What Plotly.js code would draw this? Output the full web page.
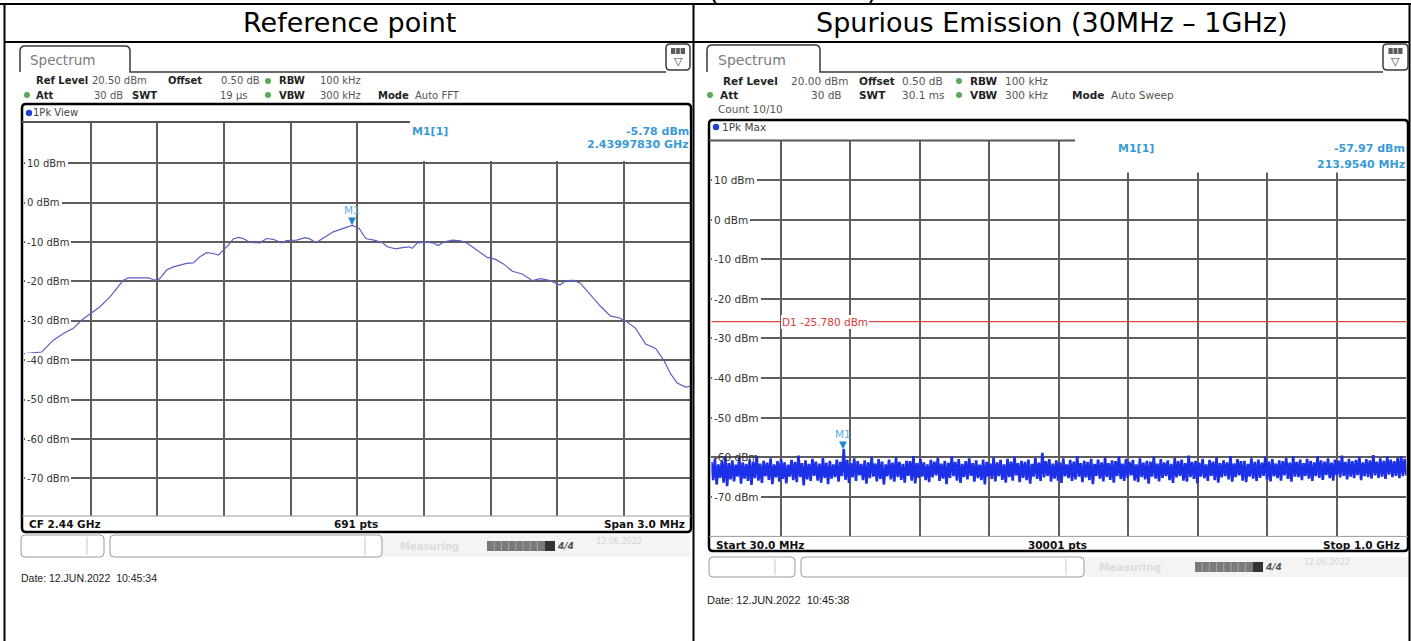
<!DOCTYPE html>
<html><head><meta charset="utf-8">
<script src="https://cdn.plot.ly/plotly-3.0.1.min.js"></script>
<style>html,body{margin:0;padding:0;background:#fff;}#chart{width:1411px;height:641px;}</style>
</head><body><div id="chart"></div>
<script>
// ================= DATA =================
// Reference point trace (CF 2.44 GHz, span 3 MHz) : frequency in MHz, level in dBm
const refFreqMHz = [2438.500,2438.580,2438.602,2438.632,2438.677,2438.722,2438.760,2438.800,2438.842,2438.887,
 2438.917,2438.947,2438.970,2439.022,2439.060,2439.082,2439.100,2439.112,2439.142,2439.172,
 2439.202,2439.232,2439.262,2439.292,2439.322,2439.352,2439.375,2439.400,2439.420,2439.442,
 2439.465,2439.487,2439.517,2439.562,2439.592,2439.622,2439.660,2439.682,2439.727,2439.765,
 2439.787,2439.814,2439.847,2439.892,2439.934,2439.978,2440.008,2440.038,2440.075,2440.113,
 2440.135,2440.173,2440.203,2440.233,2440.248,2440.270,2440.315,2440.345,2440.363,2440.390,
 2440.428,2440.465,2440.495,2440.540,2440.585,2440.623,2440.660,2440.698,2440.743,2440.788,
 2440.825,2440.863,2440.912,2440.938,2440.975,2441.005,2441.050,2441.095,2441.140,2441.178,
 2441.215,2441.253,2441.298,2441.343,2441.380,2441.410,2441.440,2441.478,2441.500];
const refLevel = [-38.3,-37.9,-36.6,-34.9,-33.2,-31.9,-29.8,-28.1,-26.4,-23.9,
 -21.8,-19.7,-19.1,-19.0,-19.1,-19.5,-19.7,-19.2,-17.1,-16.3,
 -15.8,-15.4,-15.3,-13.7,-12.7,-12.9,-13.3,-12.0,-10.8,-9.2,
 -8.8,-9.1,-10.1,-10.2,-9.1,-9.3,-10.2,-9.6,-9.5,-8.9,
 -9.2,-10.2,-9.1,-7.4,-6.6,-5.78,-6.5,-9.1,-9.5,-10.1,
 -11.2,-11.7,-11.4,-11.2,-11.6,-10.2,-10.0,-10.3,-10.9,-10.0,
 -9.5,-9.7,-10.3,-12.0,-13.9,-14.4,-15.6,-17.4,-18.1,-19.8,
 -19.3,-19.7,-20.9,-19.8,-19.7,-20.5,-23.5,-26.3,-28.8,-29.2,
 -30.3,-31.9,-35.9,-37.0,-40.0,-43.4,-45.8,-46.8,-46.6];
const refRange = [2438.5, 2441.5];
const refLevelRange = [-79.5, 20.5];
const refMarkerFreq = 2439.9783;
const refMarkerLevel = -5.78;

// Spurious emission sweep 30 MHz - 1 GHz: upper / lower envelope of the noise band (dBm)
const spurStartMHz = 30, spurStopMHz = 1000;
const spurHi = [
 -61.2,-60.4,-61.8,-61.0,-59.9,-61.5,-60.8,-61.9,-60.2,-61.3,-61.7,-60.6,-61.1,-59.8,-61.6,-60.9,-61.4,-60.3,-61.8,-61.0,
 -60.5,-61.3,-61.9,-60.7,-61.2,-59.6,-61.5,-60.8,-61.7,-60.4,-61.1,-61.6,-60.2,-61.4,-60.9,-61.8,-60.6,-61.2,-57.97,-60.7,
 -61.5,-60.3,-61.0,-61.7,-60.8,-61.3,-59.9,-61.6,-60.5,-61.1,-61.8,-60.6,-61.4,-60.1,-61.2,-61.7,-60.9,-61.0,-59.7,-61.5,
 -60.4,-61.3,-61.8,-60.7,-61.1,-60.2,-61.6,-60.9,-61.4,-59.8,-61.2,-60.5,-61.7,-61.0,-60.3,-61.5,-60.8,-61.9,-60.6,-61.2,
 -61.6,-60.1,-61.3,-60.7,-61.8,-60.4,-61.1,-59.9,-61.5,-60.9,-61.2,-60.6,-61.7,-60.2,-61.4,-58.9,-61.0,-60.5,-61.6,-60.8,
 -61.3,-60.3,-61.8,-60.7,-61.1,-59.7,-61.5,-60.9,-61.2,-60.4,-61.7,-60.6,-61.3,-60.1,-61.5,-60.8,-61.0,-59.8,-61.6,-60.5,
 -61.2,-60.7,-61.8,-60.3,-61.4,-60.9,-61.1,-59.9,-61.6,-60.5,-61.3,-60.8,-61.7,-60.2,-61.0,-60.6,-61.5,-59.6,-61.2,-60.9,
 -61.4,-60.4,-61.8,-60.7,-61.1,-60.1,-61.5,-60.8,-61.3,-59.7,-61.6,-60.5,-61.0,-60.9,-61.7,-60.3,-61.2,-60.6,-61.4,-59.9,
 -61.1,-60.5,-61.6,-60.8,-61.0,-60.2,-61.4,-59.8,-61.2,-60.6,-61.5,-60.4,-60.9,-61.3,-59.7,-60.8,-61.1,-60.3,-61.4,-60.6,
 -60.9,-59.6,-61.2,-60.4,-61.0,-60.7,-59.9,-61.3,-60.5,-60.8,-59.5,-61.1,-60.3,-60.9,-59.8,-60.6,-61.0,-60.2,-59.7,-60.4];
const spurLo = [
 -65.8,-66.9,-65.2,-66.4,-67.3,-65.6,-66.1,-64.9,-66.7,-65.4,-66.0,-67.0,-65.3,-65.9,-66.5,-64.8,-65.7,-66.8,-65.1,-66.2,
 -65.5,-66.6,-64.9,-65.8,-66.3,-65.0,-67.1,-65.6,-66.0,-64.7,-65.9,-66.4,-65.2,-66.8,-65.4,-65.0,-66.2,-64.8,-65.7,-66.5,
 -65.1,-66.0,-64.6,-65.8,-66.7,-65.3,-64.9,-66.1,-65.5,-66.9,-64.8,-65.6,-66.2,-65.0,-65.7,-66.4,-64.7,-65.9,-66.6,-65.2,
 -64.9,-65.8,-66.3,-65.1,-64.6,-66.0,-65.4,-66.8,-65.2,-64.8,-65.9,-66.5,-65.0,-65.6,-64.7,-66.2,-65.3,-65.8,-66.9,-64.9,
 -65.5,-66.1,-64.8,-65.7,-66.4,-65.0,-65.9,-64.6,-66.3,-65.2,-65.8,-66.7,-64.9,-65.5,-66.0,-65.1,-64.7,-66.2,-65.4,-65.9,
 -66.5,-64.8,-65.3,-66.0,-65.6,-64.9,-66.3,-65.1,-65.8,-66.8,-64.7,-65.4,-66.1,-65.0,-65.7,-66.4,-64.8,-65.5,-66.0,-65.2,
 -64.6,-65.9,-66.3,-65.0,-65.6,-66.7,-64.9,-65.4,-66.1,-65.2,-64.8,-65.8,-66.5,-65.1,-64.7,-65.9,-66.2,-65.0,-65.5,-66.6,
 -64.9,-65.3,-66.0,-64.7,-65.8,-66.4,-65.1,-64.8,-65.6,-66.2,-65.0,-64.6,-65.9,-66.3,-64.9,-65.4,-66.0,-65.2,-64.7,-65.7,
 -66.1,-64.8,-65.3,-65.9,-64.6,-65.5,-66.2,-64.9,-65.0,-65.8,-64.7,-65.4,-66.0,-64.8,-65.2,-65.7,-64.5,-65.3,-65.9,-64.6,
 -65.1,-64.7,-65.6,-64.9,-65.3,-64.5,-65.8,-64.8,-65.0,-65.4,-64.6,-65.2,-64.9,-65.5,-64.4,-65.0,-64.7,-65.3,-64.8,-64.6];
const spurLevelRange = [-80, 20];
const spurMarkerFreq = 213.954;
const spurMarkerLevel = -57.97;
const limitLevel = -25.78;

const levelTicks = [10,0,-10,-20,-30,-40,-50,-60,-70];
const levelTickLabels = ['10 dBm','0 dBm','-10 dBm','-20 dBm','-30 dBm','-40 dBm','-50 dBm','-60 dBm','-70 dBm'];
const titles = ['Reference point', 'Spurious Emission (30MHz \u2013 1GHz)'];

// ================= BUILD =================
const W = 1411, H = 641;
const X = p => p / W, Y = p => 1 - p / H;
const LP = {x0: 24, x1: 690.5, y0: 121.9, y1: 515.9};
const RP = {x0: 711.4, x1: 1406.4, y0: 140.4, y1: 536.4};
const INST = 'DejaVu Sans';
const MK = '#3a9ad6';

// spur sweep points: interleave upper / lower envelope along an evenly spaced sweep
const spurN = spurHi.length * 2;
const spurX = [], spurY = [];
for (let j = 0; j < spurN; j++) {
  spurX.push(spurStartMHz + j * (spurStopMHz - spurStartMHz) / (spurN - 1));
  spurY.push(j % 2 === 0 ? spurHi[j / 2] : spurLo[(j - 1) / 2]);
}

const traces = [
  {type: 'scatter', mode: 'lines', x: refFreqMHz, y: refLevel, xaxis: 'x', yaxis: 'y',
   line: {color: '#5b5fc4', width: 1.2}, hoverinfo: 'skip'},
  {type: 'scatter', mode: 'lines', x: spurX, y: spurY, xaxis: 'x2', yaxis: 'y2',
   line: {color: 'rgb(28,48,232)', width: 2.6}, hoverinfo: 'skip'}
];

const shapes = [];
const annotations = [];
function line(x0, y0, x1, y1, color, width, layer) {
  shapes.push({type: 'line', xref: 'paper', yref: 'paper', x0: X(x0), y0: Y(y0), x1: X(x1), y1: Y(y1),
    line: {color, width}, layer: layer || 'above'});
}
function rect(x0, y0, x1, y1, fill, lc, lw) {
  shapes.push({type: 'rect', xref: 'paper', yref: 'paper', x0: X(x0), y0: Y(y0), x1: X(x1), y1: Y(y1),
    fillcolor: fill, line: {color: lc || 'rgba(0,0,0,0)', width: lw || 0}, layer: 'above'});
}
function pt(x, y) { return X(x) + ',' + Y(y); }
function rr(x0, y0, x1, y1, r, lc, lw, fill) {
  const p = 'M' + pt(x0 + r, y0) + ' L' + pt(x1 - r, y0) + ' Q' + pt(x1, y0) + ' ' + pt(x1, y0 + r) +
    ' L' + pt(x1, y1 - r) + ' Q' + pt(x1, y1) + ' ' + pt(x1 - r, y1) + ' L' + pt(x0 + r, y1) +
    ' Q' + pt(x0, y1) + ' ' + pt(x0, y1 - r) + ' L' + pt(x0, y0 + r) + ' Q' + pt(x0, y0) + ' ' + pt(x0 + r, y0) + ' Z';
  shapes.push({type: 'path', xref: 'paper', yref: 'paper', path: p, fillcolor: fill || 'rgba(0,0,0,0)',
    line: {color: lc, width: lw}, layer: 'above'});
}
function dot(cx, cy, r, color) {
  shapes.push({type: 'circle', xref: 'paper', yref: 'paper', x0: X(cx - r), x1: X(cx + r), y0: Y(cy - r), y1: Y(cy + r),
    fillcolor: color, line: {color: color, width: 0}, layer: 'above'});
}
function T(x, y, text, o) {
  o = o || {};
  annotations.push({xref: 'paper', yref: 'paper', x: X(x), y: Y(y), text: text, showarrow: false,
    xanchor: o.a || 'left', yanchor: 'middle',
    font: {family: o.f || INST, size: o.s || 10, color: o.c || '#333', style: o.st || 'normal'},
    bgcolor: o.bg || 'rgba(0,0,0,0)', borderpad: 0, borderwidth: 0});
}
function tab(x0, x1, yTop, yBot, xEnd) {
  const r = 5;
  const p = 'M' + pt(x0, yBot) + ' L' + pt(x0, yTop + r) + ' Q' + pt(x0, yTop) + ' ' + pt(x0 + r, yTop) +
    ' L' + pt(x1 - r, yTop) + ' Q' + pt(x1, yTop) + ' ' + pt(x1, yTop + r) + ' L' + pt(x1, yBot) + ' L' + pt(xEnd, yBot);
  shapes.push({type: 'path', xref: 'paper', yref: 'paper', path: p, line: {color: '#3a3a3a', width: 1.5}, layer: 'above'});
}
function icon(x0, y0, x1, y1) {
  rr(x0, y0, x1, y1, 4, '#3a3a3a', 1.5);
  const cx = (x0 + x1) / 2;
  rect(cx - 7, y0 + 4, cx + 7, y0 + 10, '#5a5a5a');
  line(cx - 2.3, y0 + 4, cx - 2.3, y0 + 10, '#ddd', 1);
  line(cx + 2.3, y0 + 4, cx + 2.3, y0 + 10, '#ddd', 1);
  T(cx, y0 + 17.5, '\u25BD', {a: 'center', s: 11, c: '#444'});
}
function statusBar(x0, y0, y1, b1, d1, b2, d2, xEnd, prog, meas, fs) {
  rect(b2, y0, xEnd, y1, '#f4f4f4');
  rr(x0, y0, b1, y1, 4, '#9a9a9a', 1, '#fff');
  line(d1, y0 + 2, d1, y1 - 2, '#c8c8c8', 1);
  rr(b1 + 6, y0, b2, y1, 4, '#9a9a9a', 1, '#fff');
  line(d2, y0 + 2, d2, y1 - 2, '#c8c8c8', 1);
  const ym = (y0 + y1) / 2;
  rect(prog, ym - 5, prog + 58, ym + 5, '#7a7a7a');
  for (let i = 1; i < 8; i++) line(prog + i * 7.2, ym - 5, prog + i * 7.2, ym + 5, '#a5a5a5', 1);
  rect(prog + 58, ym - 5, prog + 68, ym + 5, '#333');
  T(prog + 78, ym, '<b>4/4</b>', {a: 'center', s: 9, c: '#555', st: 'italic'});
  T(meas, ym, '<b>Measuring</b>', {a: 'center', s: fs, c: '#dcdcdc'});
  T(prog + 132, ym - 5, '12.06.2022', {a: 'center', s: 8, c: '#d4d4d4'});
}

// ---- table ----
line(0, 4, W, 4, '#000', 2);
line(4.5, 42, 1409.5, 42, '#000', 2);
line(4.5, 4, 4.5, H, '#000', 2);
line(693.5, 4, 693.5, H, '#000', 2);
line(1409.5, 4, 1409.5, H, '#000', 2);
T(349, 23, titles[0], {a: 'center', s: 27, c: '#000'});
T(1051, 23, titles[1], {a: 'center', s: 27, c: '#000'});
T(713, -10, '(', {a: 'center', s: 27, c: '#000'});
T(872, -10, ')', {a: 'center', s: 27, c: '#000'});

// ---- left panel ----
tab(20, 130, 46, 72, 666);
icon(666, 44, 690, 70);
T(62.5, 59.5, 'Spectrum', {a: 'center', s: 13.5, c: '#7b7b7b'});
const G = '#5aa95a';
dot(268, 81, 3, G); dot(27, 95, 3, G); dot(268, 95, 3, G);
[[36, 81, '<b>Ref Level</b>', '#222'], [92, 81, '20.50 dBm', '#555'], [168, 81, '<b>Offset</b>', '#222'],
 [221, 81, '0.50 dB', '#555'], [279, 81, '<b>RBW</b>', '#222'], [320, 81, '100 kHz', '#555'],
 [36, 95, '<b>Att</b>', '#222'], [94, 95, '30 dB', '#555'], [132, 95, '<b>SWT</b>', '#222'],
 [220, 95, '19 \u00b5s', '#555'], [279, 95, '<b>VBW</b>', '#222'], [320, 95, '300 kHz', '#555'],
 [378, 95, '<b>Mode</b>', '#222'], [415, 95, 'Auto FFT', '#555']].forEach(d => T(d[0], d[1], d[2], {c: d[3], s: 10}));
rr(22, 104, 691, 532, 4, '#000', 2.5);
dot(29, 113, 3.2, '#2340d0');
T(33, 113, '1Pk View', {c: '#444', s: 10});
rect(400, 119.5, 689.5, 161, '#fff');
line(22, 122, 410, 122, '#555', 2);
line(22, 516, 691, 516, '#9a9a9a', 1);
T(430, 131.5, '<b>M1[1]</b>', {a: 'center', s: 11, c: MK});
T(689, 131.5, '<b>' + refMarkerLevel.toFixed(2) + ' dBm</b>', {a: 'right', s: 11, c: MK});
T(689, 145, '<b>' + (refMarkerFreq / 1000).toFixed(8) + ' GHz</b>', {a: 'right', s: 11, c: MK});
T(29, 524, '<b>CF 2.44 GHz</b>', {s: 10.5, c: '#111'});
T(356, 524, '<b>691 pts</b>', {a: 'center', s: 10.5, c: '#111'});
T(685, 524, '<b>Span 3.0 MHz</b>', {a: 'right', s: 10.5, c: '#111'});
statusBar(21, 535, 557, 104, 87, 382, 365, 690, 487, 430, 10);
T(21, 578, 'Date: 12.JUN.2022\u00a0 10:45:34', {f: 'Liberation Sans', s: 10.5, c: '#222'});

// ---- right panel ----
tab(707, 820, 45, 72, 1383);
icon(1383, 44, 1408, 70);
T(752, 59.5, 'Spectrum', {a: 'center', s: 14, c: '#7b7b7b'});
dot(959, 81, 3, G); dot(710, 95, 3, G); dot(959, 95, 3, G);
[[723, 81, '<b>Ref Level</b>', '#222'], [791, 81, '20.00 dBm', '#555'], [859, 81, '<b>Offset</b>', '#222'],
 [902, 81, '0.50 dB', '#555'], [970, 81, '<b>RBW</b>', '#222'], [1005, 81, '100 kHz', '#555'],
 [720, 95, '<b>Att</b>', '#222'], [811, 95, '30 dB', '#555'], [859, 95, '<b>SWT</b>', '#222'],
 [902, 95, '30.1 ms', '#555'], [970, 95, '<b>VBW</b>', '#222'], [1005, 95, '300 kHz', '#555'],
 [1072, 95, '<b>Mode</b>', '#222'], [1111, 95, 'Auto Sweep', '#555'], [718, 109, 'Count 10/10', '#555']]
 .forEach(d => T(d[0], d[1], d[2], {c: d[3], s: 10.5}));
rr(709, 120, 1408, 551, 4, '#000', 2.5);
dot(716, 127, 3.2, '#2340d0');
T(722, 127, '1Pk Max', {c: '#444', s: 10.5});
rect(1075, 138, 1406, 172.5, '#fff');
line(709, 140.4, 1075, 140.4, '#555', 2);
line(709, 536.4, 1408, 536.4, '#9a9a9a', 1);
T(1136, 148, '<b>M1[1]</b>', {a: 'center', s: 11, c: MK});
T(1405, 148, '<b>' + spurMarkerLevel.toFixed(2) + ' dBm</b>', {a: 'right', s: 11, c: MK});
T(1405, 164, '<b>' + spurMarkerFreq.toFixed(4) + ' MHz</b>', {a: 'right', s: 11, c: MK});
T(716, 545, '<b>Start 30.0 MHz</b>', {s: 10.5, c: '#111'});
T(1057, 545, '<b>30001 pts</b>', {a: 'center', s: 10.5, c: '#111'});
T(1400, 545, '<b>Stop 1.0 GHz</b>', {a: 'right', s: 10.5, c: '#111'});
statusBar(709, 557, 577, 795, 775, 1084, 1066, 1408, 1195, 1130, 10.5);
T(707, 600, 'Date: 12.JUN.2022\u00a0 10:45:38', {f: 'Liberation Sans', s: 11, c: '#222'});

// ---- level labels on both diagrams ----
levelTicks.forEach((v, i) => {
  annotations.push({xref: 'paper', yref: 'y', x: X(24.5), y: v, text: levelTickLabels[i], showarrow: false,
    xanchor: 'left', yanchor: 'middle', font: {family: INST, size: 10, color: '#333'},
    bgcolor: '#fff', borderpad: 2, borderwidth: 0});
  annotations.push({xref: 'paper', yref: 'y2', x: X(712), y: v, text: levelTickLabels[i], showarrow: false,
    xanchor: 'left', yanchor: 'middle', font: {family: INST, size: 10.5, color: '#333'},
    bgcolor: v === -60 ? 'rgba(0,0,0,0)' : '#fff', borderpad: 2, borderwidth: 0});
});

// ---- display line D1 ----
shapes.push({type: 'line', xref: 'x2', yref: 'y2', x0: spurStartMHz, x1: spurStopMHz, y0: limitLevel, y1: limitLevel,
  line: {color: '#e04848', width: 1.2}, layer: 'above'});
annotations.push({xref: 'paper', yref: 'y2', x: X(781), y: limitLevel, text: 'D1 ' + limitLevel.toFixed(3) + ' dBm',
  showarrow: false, xanchor: 'left', yanchor: 'middle', font: {family: INST, size: 10.5, color: '#d83a3a'},
  bgcolor: '#fff', borderpad: 1, borderwidth: 0});

// ---- markers ----
[['x', 'y', refMarkerFreq, refMarkerLevel], ['x2', 'y2', spurMarkerFreq, spurMarkerLevel]].forEach(m => {
  annotations.push({xref: m[0], yref: m[1], x: m[2], y: m[3], text: '\u25BC', showarrow: false,
    xanchor: 'center', yanchor: 'bottom', yshift: -3, font: {family: INST, size: 10, color: '#1f86d2'}});
  annotations.push({xref: m[0], yref: m[1], x: m[2], y: m[3], text: 'M1', showarrow: false,
    xanchor: 'center', yanchor: 'bottom', yshift: 7, font: {family: INST, size: 10.5, color: '#5aaee0'}});
});

const axBase = {showgrid: true, gridcolor: '#5e5e5e', gridwidth: 2, zeroline: false, showticklabels: false,
  ticks: '', showline: false, fixedrange: true};
const layout = {
  width: W, height: H, margin: {l: 0, r: 0, t: 0, b: 0}, paper_bgcolor: '#fff', plot_bgcolor: 'rgba(0,0,0,0)',
  showlegend: false,
  xaxis: Object.assign({}, axBase, {domain: [X(LP.x0), X(LP.x1)], range: refRange, tick0: refRange[0], dtick: (refRange[1] - refRange[0]) / 10, anchor: 'y'}),
  yaxis: Object.assign({}, axBase, {domain: [Y(LP.y1), Y(LP.y0)], range: refLevelRange, tickmode: 'array', tickvals: levelTicks, anchor: 'x'}),
  xaxis2: Object.assign({}, axBase, {domain: [X(RP.x0), X(RP.x1)], range: [spurStartMHz, spurStopMHz], tick0: spurStartMHz, dtick: (spurStopMHz - spurStartMHz) / 10, anchor: 'y2'}),
  yaxis2: Object.assign({}, axBase, {domain: [Y(RP.y1), Y(RP.y0)], range: spurLevelRange, tickmode: 'array', tickvals: levelTicks, anchor: 'x2'}),
  shapes: shapes,
  annotations: annotations
};
Plotly.newPlot('chart', traces, layout, {staticPlot: true, displayModeBar: false});
</script>
</body></html>
